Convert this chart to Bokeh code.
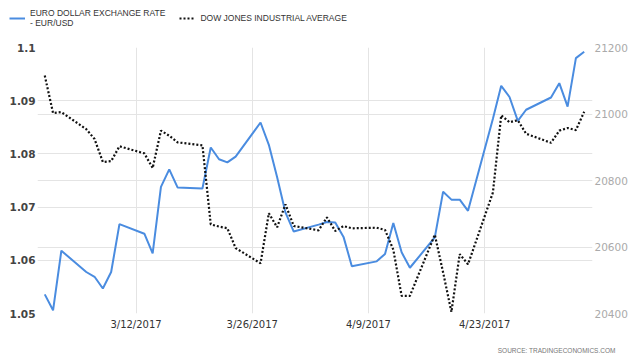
from datetime import datetime, timedelta
from bokeh.plotting import figure
from bokeh.layouts import column
from bokeh.models import (Range1d, LinearAxis, FixedTicker, DatetimeTickFormatter,
                          Legend, LegendItem, Label, Grid, ColumnDataSource)
from bokeh.embed import file_html
from bokeh.resources import INLINE

dates = ["2017-03-01", "2017-03-02", "2017-03-03", "2017-03-06", "2017-03-07", "2017-03-08",
         "2017-03-09", "2017-03-10", "2017-03-13", "2017-03-14", "2017-03-15", "2017-03-16",
         "2017-03-17", "2017-03-20", "2017-03-21", "2017-03-22", "2017-03-23", "2017-03-24",
         "2017-03-27", "2017-03-28", "2017-03-29", "2017-03-30", "2017-03-31", "2017-04-03",
         "2017-04-04", "2017-04-05", "2017-04-06", "2017-04-07", "2017-04-10", "2017-04-11",
         "2017-04-12", "2017-04-13", "2017-04-14", "2017-04-17", "2017-04-18", "2017-04-19",
         "2017-04-20", "2017-04-21", "2017-04-24", "2017-04-25", "2017-04-26", "2017-04-27",
         "2017-04-28", "2017-05-01", "2017-05-02", "2017-05-03", "2017-05-04", "2017-05-05"]

eurusd = [1.0536, 1.0506, 1.0618, 1.0578, 1.0569, 1.0547, 1.0578, 1.0668, 1.0650, 1.0613,
          1.0738, 1.0771, 1.0737, 1.0735, 1.0812, 1.0790, 1.0784, 1.0795, 1.0859, 1.0817,
          1.0756, 1.0690, 1.0654, 1.0667, 1.0672, 1.0671, 1.0644, 1.0589, 1.0598, 1.0612,
          1.0670, 1.0615, 1.0586, 1.0643, 1.0729, 1.0714, 1.0714, 1.0693, 1.0866, 1.0928,
          1.0907, 1.0862, 1.0883, 1.0906, 1.0933, 1.0889, 1.0980, 1.0992]

dow = [21115.55, 21002.97, 21005.71, 20954.34, 20924.76, 20855.73, 20858.19, 20902.98,
       20881.48, 20837.37, 20950.10, 20934.55, 20914.62, 20905.86, 20668.01, 20661.30,
       20656.58, 20596.72, 20550.98, 20701.50, 20659.32, 20728.49, 20663.22, 20650.21,
       20689.24, 20648.15, 20662.95, 20656.10, 20658.02, 20651.30, 20591.86, 20453.25,
       20453.25, 20636.92, 20523.28, 20404.49, 20578.71, 20547.76, 20763.89, 20996.12,
       20975.09, 20981.33, 20940.51, 20913.46, 20949.89, 20957.90, 20951.47, 21006.94]

x_tick_dates = ["2017-03-12", "2017-03-26", "2017-04-09", "2017-04-23"]
left_ticks = [1.05, 1.06, 1.07, 1.08, 1.09, 1.1]
right_ticks = [20400, 20600, 20800, 21000, 21200]

series_names = ["EURO DOLLAR EXCHANGE RATE\n- EUR/USD", "DOW JONES INDUSTRIAL AVERAGE"]
source_text = "SOURCE: TRADINGECONOMICS.COM"

EUR_COLOR = "#4a8ce0"
DOW_COLOR = "#111111"
GRID_COLOR = "#e4e4e4"

x = [datetime.strptime(d, "%Y-%m-%d") for d in dates]
src = ColumnDataSource(dict(x=x, eur=eurusd, dow=dow))

def ms(dt):
    return (dt - datetime(1970, 1, 1)).total_seconds() * 1000.0

x0 = x[0] - timedelta(hours=21)
x1 = x[-1] + timedelta(hours=24)

def no_align(f):
    if "frame_align" in f.properties():
        f.frame_align = False

def bare_figure(h):
    f = figure(width=640, height=h, output_backend="svg", toolbar_location=None,
               x_axis_location=None, y_axis_location=None,
               x_range=Range1d(x0, x1), y_range=Range1d(0, 1),
               min_border_left=0, min_border_right=0, min_border_top=0, min_border_bottom=0)
    f.outline_line_color = None
    f.grid.visible = False
    f.border_fill_color = "white"
    f.background_fill_color = "white"
    no_align(f)
    return f

# ---------- legend strip (series lie outside this strip's range; only the legend shows) ----------
top = bare_figure(40)
top.extra_y_ranges = {"dow": Range1d(0, 1)}
l_eur = top.line("x", "eur", source=src, line_color=EUR_COLOR, line_width=2)
l_dow = top.line("x", "dow", source=src, y_range_name="dow", line_color=DOW_COLOR,
                 line_width=2.2, line_dash="2 2")
legend = Legend(items=[LegendItem(label=series_names[0], renderers=[l_eur]),
                       LegendItem(label=series_names[1], renderers=[l_dow])],
                orientation="horizontal", location=(9, 12),
                label_text_font="Liberation Sans", label_text_font_size="8.5px",
                label_text_color="#333333", glyph_width=16, glyph_height=10,
                label_standoff=5, spacing=14, padding=0, margin=0,
                border_line_color=None, background_fill_alpha=0)
top.add_layout(legend, "center")

# ---------- main chart ----------
p = figure(width=640, height=300, output_backend="svg", toolbar_location=None,
           x_axis_type="datetime", x_range=Range1d(x0, x1), y_range=Range1d(1.05, 1.1),
           min_border_left=37, min_border_right=48, min_border_top=7, min_border_bottom=27)
no_align(p)
p.outline_line_color = None
p.background_fill_color = "white"
p.border_fill_color = "white"
p.extra_y_ranges = {"dow": Range1d(20400, 21200)}

p.xaxis.ticker = FixedTicker(ticks=[ms(datetime.strptime(d, "%Y-%m-%d")) for d in x_tick_dates])
fmt = "%-m/%-d/%Y"
p.xaxis.formatter = DatetimeTickFormatter(days=fmt, months=fmt, years=fmt, hours=fmt,
                                          hourmin=fmt, minutes=fmt, minsec=fmt, seconds=fmt,
                                          milliseconds=fmt, microseconds=fmt)
p.xaxis.axis_line_color = None
p.xaxis.major_tick_line_color = None
p.xaxis.minor_tick_line_color = None
p.xaxis.major_tick_out = 0
p.xaxis.major_label_text_font = "DejaVu Sans"
p.xaxis.major_label_text_font_size = "10px"
p.xaxis.major_label_text_color = "#333333"
p.xaxis.major_label_standoff = 5
p.xgrid.grid_line_color = GRID_COLOR

p.yaxis.ticker = FixedTicker(ticks=left_ticks)
p.yaxis.axis_line_color = None
p.yaxis.major_tick_line_color = None
p.yaxis.minor_tick_line_color = None
p.yaxis.major_tick_out = 0
p.yaxis.major_label_text_font = "DejaVu Sans"
p.yaxis.major_label_text_font_size = "10.5px"
p.yaxis.major_label_text_font_style = "bold"
p.yaxis.major_label_text_color = "#444444"
p.yaxis.major_label_standoff = 2
p.ygrid.grid_line_color = GRID_COLOR

ry = LinearAxis(y_range_name="dow", ticker=FixedTicker(ticks=right_ticks))
ry.axis_line_color = None
ry.major_tick_line_color = None
ry.minor_tick_line_color = None
ry.major_tick_out = 0
ry.major_label_text_font = "DejaVu Sans"
ry.major_label_text_font_size = "10.5px"
ry.major_label_text_color = "#aaaaaa"
ry.major_label_standoff = 2
p.add_layout(ry, "right")
p.add_layout(Grid(dimension=1, ticker=ry.ticker, y_range_name="dow", grid_line_color=GRID_COLOR))

p.line("x", "eur", source=src, line_color=EUR_COLOR, line_width=2)
p.line("x", "dow", source=src, y_range_name="dow", line_color=DOW_COLOR,
       line_width=2.2, line_dash="2 2")

# ---------- source strip ----------
bottom = bare_figure(22)
bottom.add_layout(Label(x=615, y=12, x_units="screen", y_units="screen", text=source_text,
                        text_align="right", text_baseline="middle",
                        text_font="Liberation Sans", text_font_size="6.5px",
                        text_color="#777777"))

layout = column(top, p, bottom, spacing=0)
open("out.html", "w").write(file_html(layout, INLINE))
